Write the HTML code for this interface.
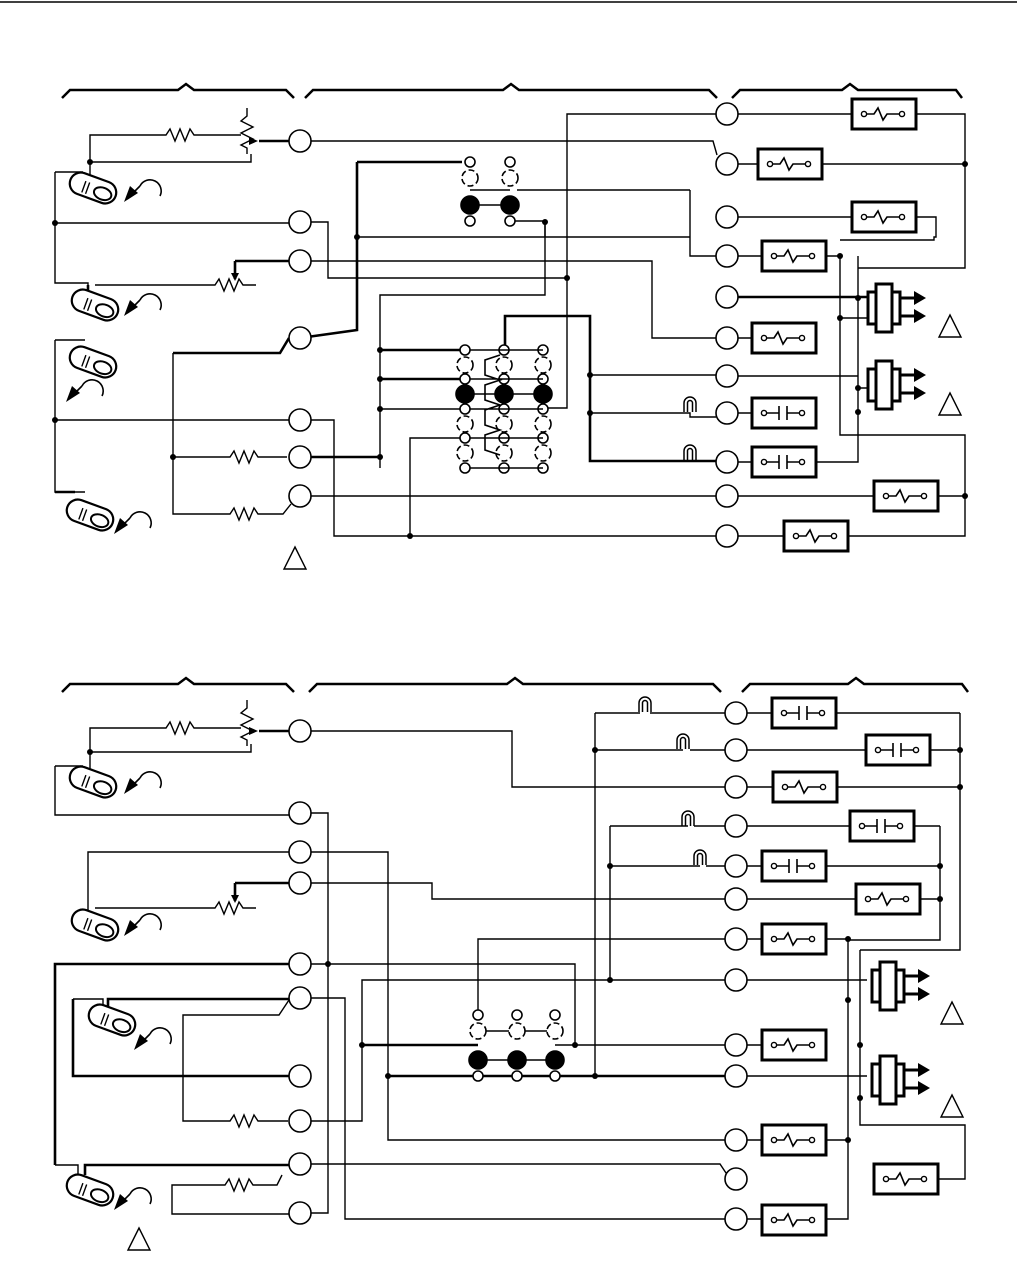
<!DOCTYPE html>
<html><head><meta charset="utf-8"><style>
html,body{margin:0;padding:0;background:#fff}
svg{display:block}
</style></head><body>
<svg width="1017" height="1262" viewBox="0 0 1017 1262" xmlns="http://www.w3.org/2000/svg">
<defs>
<g id="relay"><rect x="0" y="0" width="64" height="30" fill="#fff" stroke="#000" stroke-width="3"/><path d="M12 15h10l4-6 5 12 4-6h12" fill="none" stroke="#000" stroke-width="1.6"/><circle cx="12" cy="15" r="2.6" fill="#fff" stroke="#000" stroke-width="1.4"/><circle cx="50" cy="15" r="2.6" fill="#fff" stroke="#000" stroke-width="1.4"/></g>
<g id="cont"><rect x="0" y="0" width="64" height="30" fill="#fff" stroke="#000" stroke-width="3"/><path d="M12 15h15M27 8v14M35 8v14M35 15h15" fill="none" stroke="#000" stroke-width="1.6"/><circle cx="12" cy="15" r="2.6" fill="#fff" stroke="#000" stroke-width="1.4"/><circle cx="50" cy="15" r="2.6" fill="#fff" stroke="#000" stroke-width="1.4"/></g>
<g id="sens"><g transform="rotate(20)"><rect x="-24" y="-11" width="48" height="22" rx="11" fill="#fff" stroke="#000" stroke-width="2.2"/><ellipse cx="11" cy="2" rx="9" ry="6" fill="none" stroke="#000" stroke-width="2"/><path d="M-9 -4v12M-5 -4v12" stroke="#000" stroke-width="1.4"/></g></g>
<g id="arr"><path d="M0 8 a11 11 0 0 1 20 10" fill="none" stroke="#000" stroke-width="1.6"/><path d="M-16 24 l6 -16 l8 7z" fill="#000"/><path d="M0 8 l-10 10" stroke="#000" stroke-width="1.6"/></g>
<g id="plug"><rect x="-8" y="8" width="32" height="32" fill="#fff" stroke="#000" stroke-width="3"/><rect x="0" y="0" width="16" height="48" fill="#fff" stroke="#000" stroke-width="3"/><path d="M24 14h16M24 32h16" stroke="#000" stroke-width="3"/><path d="M38 7l12 7-12 7zM38 25l12 7-12 7z" fill="#000"/></g>
<g id="tri"><path d="M0 -12 L11 10 H-11 Z" fill="#fff" stroke="#000" stroke-width="1.4"/></g>
<g id="lamp"><path d="M-6 16v-9a6 6 0 0 1 12 0v9M-2.5 16v-9a2.5 2.5 0 0 1 5 0v9" fill="none" stroke="#000" stroke-width="1.5"/></g>
</defs>
<line x1="0" y1="2" x2="1017" y2="2" stroke="#000" stroke-width="1.5"/>

<g fill="none" stroke="#000" stroke-width="2.5">
<path d="M62 98l8-8h108l8-6 8 6h92l8 8"/>
<path d="M305 98l8-8h190l8-6 8 6h190l8 8"/>
<path d="M732 98l8-8h102l8-6 8 6h98l6 8"/>
<path d="M62 692l8-8h108l8-6 8 6h92l8 8"/>
<path d="M309 692l8-8h190l8-6 8 6h190l8 8"/>
<path d="M742 692l8-8h98l8-6 8 6h98l6 8"/>
</g>

<!-- DIAGRAM 1 wires -->
<g fill="none" stroke="#000" stroke-width="1.4">
<path d="M90 180V135h76l4-6 5 12 5-12 5 12 5-12 4 6h47"/>
<path d="M90 162h161v-8M247 108v8l-6 5 12 6-12 6 12 6-12 6 6 3v6"/>
<path d="M55 172h28M55 172V283h33v8"/>
<path d="M95 285h120l4-6 5 12 5-12 5 12 5-12 4 6h13"/>
<path d="M55 223h234M55 340h30M55 340V420M55 420h234M55 420V492h30"/>
<path d="M311 222h17v56h239"/>
<path d="M311 261h341v77h64"/>
<path d="M311 141h402l4 14"/>
<path d="M567 278V114h149M567 278V408h-22"/>
<path d="M311 420h23v116h382M410 536V438h55"/>
<path d="M311 496h405"/>
<path d="M173 353V514h57l4-6 5 12 5-12 5 12 5-12 4 6h25l8-10M173 457h57l4-6 5 12 5-12 5 12 5-12 4 6h29"/>
<path d="M690 190V256h26M517 190h173"/>
<path d="M357 237h333"/>
<path d="M510 221h35v74H380v173"/>
<path d="M380 409h85M545 222v15"/>
<path d="M590 375h126M590 413h100v4h26"/>
<path d="M738 114h114M916 114h49V268H858M738 164h20M822 164h143M738 217h114M916 217h20v20h-2V240H840M738 256h24M826 256h14V435h125V496M738 338h14M738 376h120M738 413h14M738 462h14M738 496h136M938 496h27M738 536h46M848 536h117V435"/>
<path d="M858 256V462h-42M840 318h30M858 388h12"/>
</g>
<g fill="none" stroke="#000" stroke-width="2.6">
<path d="M289 141h-30M235 261h54M235 261v18"/>
<path d="M357 162V330l-57 8M357 162h105"/>
<path d="M289 338l-9 15H173"/>
<path d="M311 457h69M380 350h85M380 379h85"/>
<path d="M505 350V316h85v145h126M738 297h130"/>
<path d="M55 492h20M88 292V285"/>
</g>
<path d="M258 141l-9-4v8z M235 281l-4-8h8z" fill="#000"/>
<g fill="#000">
<circle cx="90" cy="162" r="3"/><circle cx="55" cy="223" r="3"/><circle cx="55" cy="420" r="3"/><circle cx="173" cy="457" r="3"/><circle cx="567" cy="278" r="3"/><circle cx="357" cy="237" r="3"/><circle cx="545" cy="222" r="3"/><circle cx="380" cy="350" r="3"/><circle cx="380" cy="379" r="3"/><circle cx="380" cy="409" r="3"/><circle cx="380" cy="457" r="3"/><circle cx="410" cy="536" r="3"/><circle cx="590" cy="375" r="3"/><circle cx="590" cy="413" r="3"/><circle cx="965" cy="164" r="3"/><circle cx="965" cy="496" r="3"/><circle cx="840" cy="256" r="3"/><circle cx="840" cy="318" r="3"/><circle cx="858" cy="298" r="3"/><circle cx="858" cy="388" r="3"/><circle cx="858" cy="412" r="3"/>
</g>
<g stroke="#000" stroke-width="1.6" fill="#fff">
<circle cx="470" cy="162" r="5"/><circle cx="510" cy="162" r="5"/><circle cx="470" cy="178" r="8" stroke-dasharray="6 3"/><circle cx="510" cy="178" r="8" stroke-dasharray="6 3"/><circle cx="470" cy="205" r="9" fill="#000"/><circle cx="510" cy="205" r="9" fill="#000"/><circle cx="470" cy="221" r="5"/><circle cx="510" cy="221" r="5"/>
<path d="M479 205h22M470 190h40" fill="none"/>
</g>
<g stroke="#000" stroke-width="1.6" fill="#fff">
<g id="col1"><circle cx="465" cy="350" r="5"/><circle cx="465" cy="365" r="8" stroke-dasharray="6 3"/><circle cx="465" cy="379" r="5"/><circle cx="465" cy="394" r="9" fill="#000"/><circle cx="465" cy="409" r="5"/><circle cx="465" cy="424" r="8" stroke-dasharray="6 3"/><circle cx="465" cy="438" r="5"/><circle cx="465" cy="453" r="8" stroke-dasharray="6 3"/><circle cx="465" cy="468" r="5"/></g>
<use href="#col1" x="39"/><use href="#col1" x="78"/>
<path d="M474 394h22M513 394h22M470 350h73M470 379h73M470 409h73M470 438h73M470 468h73M500 355l-15 5v15l15 5-15 5v15l15 5-15 5v15l15 5-15 5v15l15 5" fill="none"/>
</g>
<g>
<use href="#relay" x="852" y="99"/><use href="#relay" x="758" y="149"/><use href="#relay" x="852" y="202"/><use href="#relay" x="762" y="241"/><use href="#relay" x="752" y="323"/><use href="#cont" x="752" y="398"/><use href="#cont" x="752" y="447"/><use href="#relay" x="874" y="481"/><use href="#relay" x="784" y="521"/>
<use href="#plug" x="876" y="284"/><use href="#plug" x="876" y="361"/>
<use href="#lamp" x="690" y="396"/><use href="#lamp" x="690" y="444"/>
<use href="#tri" x="950" y="327"/><use href="#tri" x="950" y="405"/><use href="#tri" x="295" y="559"/>
<use href="#sens" x="93" y="188"/><use href="#sens" x="95" y="305"/><use href="#sens" x="93" y="362"/><use href="#sens" x="90" y="515"/>
<use href="#arr" x="140" y="178"/><use href="#arr" x="140" y="292"/><use href="#arr" x="82" y="378"/><use href="#arr" x="130" y="510"/>
</g>
<g fill="#fff" stroke="#000" stroke-width="1.6">
<circle cx="300" cy="141" r="11"/><circle cx="300" cy="222" r="11"/><circle cx="300" cy="261" r="11"/><circle cx="300" cy="338" r="11"/><circle cx="300" cy="420" r="11"/><circle cx="300" cy="457" r="11"/><circle cx="300" cy="496" r="11"/>
<circle cx="727" cy="114" r="11"/><circle cx="727" cy="164" r="11"/><circle cx="727" cy="217" r="11"/><circle cx="727" cy="256" r="11"/><circle cx="727" cy="297" r="11"/><circle cx="727" cy="338" r="11"/><circle cx="727" cy="376" r="11"/><circle cx="727" cy="413" r="11"/><circle cx="727" cy="462" r="11"/><circle cx="727" cy="496" r="11"/><circle cx="727" cy="536" r="11"/>
</g>

<!-- DIAGRAM 2 -->
<g fill="none" stroke="#000" stroke-width="1.4">
<path d="M90 775V728h76l4-6 5 12 5-12 5 12 5-12 4 6h47"/>
<path d="M90 752h161v-8M247 700v8l-6 5 12 6-12 6 12 6-12 6 6 3v6"/>
<path d="M55 766h28M55 766V815h234"/>
<path d="M311 731h201v56h213"/>
<path d="M311 813h17v400h-17"/>
<path d="M88 915V852h201M311 852h77v288h337"/>
<path d="M95 908h120l4-6 5 12 5-12 5 12 5-12 4 6h13"/>
<path d="M311 883h121v16h293"/>
<path d="M311 964h264v81h150"/>
<path d="M311 998h34v221h380"/>
<path d="M289 1000l-10 15H183V1121h47l4-6 5 12 5-12 5 12 5-12 4 6h30"/>
<path d="M73 999h30v14"/>
<path d="M311 1121h51V980h363"/>
<path d="M311 1164h409l10 15"/>
<path d="M289 1214h-117v-29h53l4-6 5 12 5-12 5 12 5-12 4 6h24l5-10"/>
<path d="M55 1165h23v10"/>
<path d="M478 1015V939h247"/>
<path d="M595 713h45M595 750h88M595 713V1076M610 826h78M610 866h90M610 826V980"/>
<path d="M650 713h75M690 750h35M694 826h31M706 866h19"/>
<path d="M747 713h25M836 713h124M747 750h119M928 750h32M747 787h26M837 787h123M960 713V950h-100M747 826h103M912 826h28M747 866h15M824 866h116M747 899h109M918 899h22M940 826V940h-92M747 939h15M824 939h24V1219h-24M747 980h120M747 1045h15M747 1076h120M747 1140h15M824 1140h24M938 1179h27V1125h-105V1090M747 1219h15M860 950V1100"/>
<path d="M555 1045h20"/>
</g>
<g fill="none" stroke="#000" stroke-width="2.6">
<path d="M289 731h-30M235 883h54M235 883v18"/>
<path d="M289 964H55V1165"/>
<path d="M289 999H108v10"/>
<path d="M289 1076H73V999"/>
<path d="M289 1165H85v10"/>
<path d="M388 1076h337M555 1076h40"/>
<path d="M362 1045h116"/>
</g>
<path d="M258 731l-9-4v8z M235 903l-4-8h8z" fill="#000"/>
<g fill="#000">
<circle cx="90" cy="752" r="3"/><circle cx="328" cy="964" r="3"/><circle cx="388" cy="1076" r="3"/><circle cx="362" cy="1045" r="3"/><circle cx="595" cy="750" r="3"/><circle cx="595" cy="1076" r="3"/><circle cx="610" cy="866" r="3"/><circle cx="610" cy="980" r="3"/><circle cx="575" cy="1045" r="3"/><circle cx="960" cy="750" r="3"/><circle cx="960" cy="787" r="3"/><circle cx="940" cy="866" r="3"/><circle cx="940" cy="899" r="3"/><circle cx="848" cy="939" r="3"/><circle cx="848" cy="1140" r="3"/><circle cx="848" cy="1000" r="3"/><circle cx="860" cy="1045" r="3"/><circle cx="860" cy="1098" r="3"/>
</g>
<g stroke="#000" stroke-width="1.6" fill="#fff">
<g id="col2"><circle cx="478" cy="1015" r="5"/><circle cx="478" cy="1031" r="8" stroke-dasharray="6 3"/><circle cx="478" cy="1060" r="9" fill="#000"/><circle cx="478" cy="1076" r="5"/></g>
<use href="#col2" x="39"/><use href="#col2" x="77"/>
<path d="M487 1060h22M526 1060h22M486 1031h23M525 1031h22" fill="none"/>
</g>
<g>
<use href="#cont" x="772" y="698"/><use href="#cont" x="866" y="735"/><use href="#relay" x="773" y="772"/><use href="#cont" x="850" y="811"/><use href="#cont" x="762" y="851"/><use href="#relay" x="856" y="884"/><use href="#relay" x="762" y="924"/><use href="#relay" x="762" y="1030"/><use href="#relay" x="762" y="1125"/><use href="#relay" x="874" y="1164"/><use href="#relay" x="762" y="1205"/>
<use href="#plug" x="880" y="962"/><use href="#plug" x="880" y="1056"/>
<use href="#lamp" x="645" y="696"/><use href="#lamp" x="683" y="733"/><use href="#lamp" x="688" y="810"/><use href="#lamp" x="700" y="849"/>
<use href="#tri" x="952" y="1014"/><use href="#tri" x="952" y="1107"/><use href="#tri" x="139" y="1240"/>
<use href="#sens" x="93" y="782"/><use href="#sens" x="95" y="925"/><use href="#sens" x="112" y="1020"/><use href="#sens" x="90" y="1190"/>
<use href="#arr" x="140" y="770"/><use href="#arr" x="140" y="912"/><use href="#arr" x="150" y="1026"/><use href="#arr" x="130" y="1186"/>
</g>
<g fill="#fff" stroke="#000" stroke-width="1.6">
<circle cx="300" cy="731" r="11"/><circle cx="300" cy="813" r="11"/><circle cx="300" cy="852" r="11"/><circle cx="300" cy="883" r="11"/><circle cx="300" cy="964" r="11"/><circle cx="300" cy="998" r="11"/><circle cx="300" cy="1076" r="11"/><circle cx="300" cy="1121" r="11"/><circle cx="300" cy="1164" r="11"/><circle cx="300" cy="1213" r="11"/>
<circle cx="736" cy="713" r="11"/><circle cx="736" cy="750" r="11"/><circle cx="736" cy="787" r="11"/><circle cx="736" cy="826" r="11"/><circle cx="736" cy="866" r="11"/><circle cx="736" cy="899" r="11"/><circle cx="736" cy="939" r="11"/><circle cx="736" cy="980" r="11"/><circle cx="736" cy="1045" r="11"/><circle cx="736" cy="1076" r="11"/><circle cx="736" cy="1140" r="11"/><circle cx="736" cy="1179" r="11"/><circle cx="736" cy="1219" r="11"/>
</g>
</svg>
</body></html>
